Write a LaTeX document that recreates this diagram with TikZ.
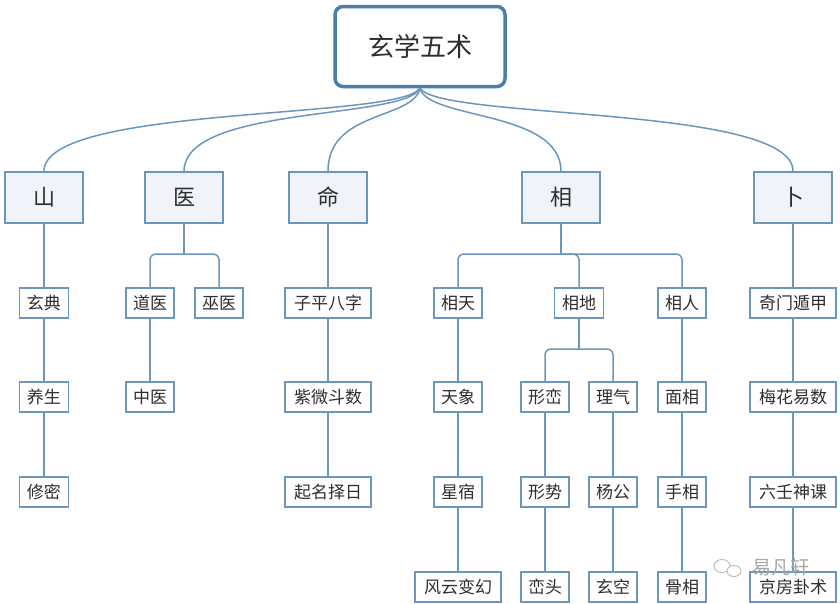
\documentclass[tikz,border=0pt]{standalone}
\usepackage{fontspec}
\newfontfamily\cjk{Noto Sans CJK SC}
\definecolor{lineblue}{HTML}{6B97BF}
\definecolor{rootblue}{HTML}{4A7FAB}
\definecolor{lvfill}{HTML}{F0F4FA}
\definecolor{txt}{HTML}{2E2E2E}
\begin{document}
\begin{tikzpicture}[x=1pt,y=-1pt,
  rootbox/.style={draw=rootblue,line width=3.5pt,rounded corners=8pt,fill=white,minimum width=170pt,minimum height=80pt,inner sep=0pt,text=txt,font=\cjk\fontsize{26}{26}\selectfont},
  lvone/.style={draw=lineblue,line width=1.6pt,fill=lvfill,minimum width=78pt,minimum height=51pt,inner sep=0pt,text=txt,font=\cjk\fontsize{22}{22}\selectfont},
  leaf/.style={draw=lineblue,line width=1.5pt,fill=white,minimum height=30pt,minimum width=#1,inner sep=0pt,text=txt,font=\cjk\fontsize{17}{17}\selectfont},
  leaf/.default=48pt,
  conn/.style={draw=lineblue,line width=1.5pt},
  bar/.style={conn,rounded corners=6pt}]
\useasboundingbox (0,0) rectangle (840,603);
\fill[white] (0,0) rectangle (840,603);

% root
\node[rootbox] (root) at (420,46.5) {玄学五术};

% level 1
\node[lvone] (shan) at (44,197.5) {山};
\node[lvone] (yi) at (184,197.5) {医};
\node[lvone] (ming) at (328,197.5) {命};
\node[lvone] (xiang) at (561,197.5) {相};
\node[lvone] (bu) at (793,197.5) {卜};

% curves from root
\draw[conn] (root.south) .. controls (400,120) and (44,105) .. (shan.north);
\draw[conn] (root.south) .. controls (405,120) and (184,105) .. (yi.north);
\draw[conn] (root.south) .. controls (413,120) and (328,110) .. (ming.north);
\draw[conn] (root.south) .. controls (428,120) and (561,110) .. (xiang.north);
\draw[conn] (root.south) .. controls (440,120) and (793,105) .. (bu.north);

% row 2
\node[leaf=49pt] (xuandian) at (44,303) {玄典};
\node[leaf] (daoyi) at (150,303) {道医};
\node[leaf] (wuyi) at (219,303) {巫医};
\node[leaf=86pt] (ziping) at (328,303) {子平八字};
\node[leaf] (xiangtian) at (458,303) {相天};
\node[leaf=49pt] (xiangdi) at (579,303) {相地};
\node[leaf] (xiangren) at (682,303) {相人};
\node[leaf=86pt] (qimen) at (793,303) {奇门遁甲};

% row 3
\node[leaf=49pt] (yangsheng) at (44,397) {养生};
\node[leaf] (zhongyi) at (150,397) {中医};
\node[leaf=86pt] (ziwei) at (328,397) {紫微斗数};
\node[leaf] (tianxiang) at (458,397) {天象};
\node[leaf] (xingluan) at (545,397) {形峦};
\node[leaf] (liqi) at (613,397) {理气};
\node[leaf] (mianxiang) at (682,397) {面相};
\node[leaf=86pt] (meihua) at (793,397) {梅花易数};

% row 4
\node[leaf=49pt] (xiumi) at (44,492) {修密};
\node[leaf=86pt] (qiming) at (328,492) {起名择日};
\node[leaf] (xingxiu) at (458,492) {星宿};
\node[leaf] (xingshi) at (545,492) {形势};
\node[leaf] (yanggong) at (613,492) {杨公};
\node[leaf] (shouxiang) at (682,492) {手相};
\node[leaf=86pt] (liuren) at (793,492) {六壬神课};

% row 5
\node[leaf=86pt] (fengyun) at (458,587) {风云变幻};
\node[leaf] (luantou) at (545,587) {峦头};
\node[leaf] (xuankong) at (613,587) {玄空};
\node[leaf] (guxiang) at (682,587) {骨相};
\node[leaf=86pt] (jingfang) at (793,587) {京房卦术};

% straight chains
\draw[conn] (shan.south) -- (xuandian.north);
\draw[conn] (xuandian.south) -- (yangsheng.north);
\draw[conn] (yangsheng.south) -- (xiumi.north);
\draw[conn] (daoyi.south) -- (zhongyi.north);
\draw[conn] (ming.south) -- (ziping.north);
\draw[conn] (ziping.south) -- (ziwei.north);
\draw[conn] (ziwei.south) -- (qiming.north);
\draw[conn] (xiangtian.south) -- (tianxiang.north);
\draw[conn] (tianxiang.south) -- (xingxiu.north);
\draw[conn] (xingxiu.south) -- (fengyun.north);
\draw[conn] (xingluan.south) -- (xingshi.north);
\draw[conn] (xingshi.south) -- (luantou.north);
\draw[conn] (liqi.south) -- (yanggong.north);
\draw[conn] (yanggong.south) -- (xuankong.north);
\draw[conn] (xiangren.south) -- (mianxiang.north);
\draw[conn] (mianxiang.south) -- (shouxiang.north);
\draw[conn] (shouxiang.south) -- (guxiang.north);
\draw[conn] (bu.south) -- (qimen.north);
\draw[conn] (qimen.south) -- (meihua.north);
\draw[conn] (meihua.south) -- (liuren.north);
\draw[conn] (liuren.south) -- (jingfang.north);

% bars
\coordinate (jyi) at (184,254);
\draw[conn] (yi.south) -- (jyi);
\draw[bar] (jyi) -| (daoyi.north);
\draw[bar] (jyi) -| (wuyi.north);

\coordinate (jxiang) at (561,254);
\draw[conn] (xiang.south) -- (jxiang);
\draw[bar] (jxiang) -| (xiangtian.north);
\draw[bar] (jxiang) -| (xiangdi.north);
\draw[bar] (jxiang) -| (xiangren.north);

\coordinate (jdi) at (579,349);
\draw[conn] (xiangdi.south) -- (jdi);
\draw[bar] (jdi) -| (xingluan.north);
\draw[bar] (jdi) -| (liqi.north);

% watermark
\draw[gray!55,line width=0.9pt] (722,566) ellipse (8pt and 6.5pt);
\draw[gray!55,line width=0.9pt,fill=white] (734,571) ellipse (7pt and 5.5pt);
\node[text=gray!70,font=\cjk\fontsize{19}{19}\selectfont,inner sep=0pt] (wm) at (781,567) {易凡轩};
\end{tikzpicture}
\end{document}
